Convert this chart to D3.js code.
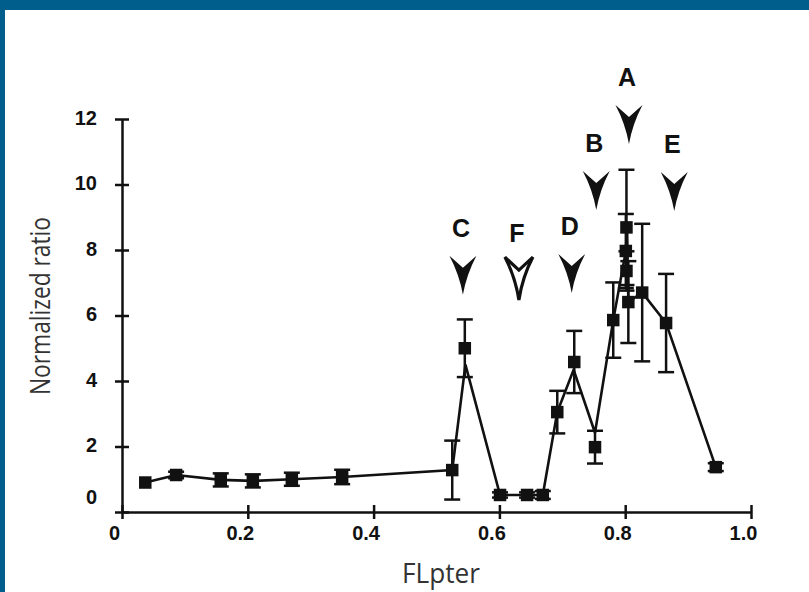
<!DOCTYPE html>
<html>
<head>
<meta charset="utf-8">
<script src="https://cdn.jsdelivr.net/npm/d3@7"></script>
<style>
  html, body { margin: 0; padding: 0; background: #fff; }
  svg { display: block; }
</style>
</head>
<body>
<script>
// ---- data ----
const xTicks = [0, 0.2, 0.4, 0.6, 0.8, 1.0];
const xTickLabels = ["0", "0.2", "0.4", "0.6", "0.8", "1.0"];
const yTicks = [0, 2, 4, 6, 8, 10, 12];

// measured points (FLpter, normalized ratio, error)
const markerX   = [0.037, 0.086, 0.157, 0.208, 0.270, 0.350, 0.525, 0.545, 0.601, 0.644, 0.669, 0.692, 0.719, 0.752, 0.781, 0.802, 0.801, 0.802, 0.805, 0.827, 0.865, 0.944];
const markerY   = [0.90, 1.13, 0.98, 0.95, 1.00, 1.07, 1.28, 5.00, 0.52, 0.52, 0.52, 3.05, 4.58, 1.98, 5.86, 8.69, 7.97, 7.36, 6.41, 6.70, 5.77, 1.37];
const markerErr = [0.00, 0.10, 0.20, 0.20, 0.20, 0.22, 0.90, 0.88, 0.08, 0.08, 0.12, 0.65, 0.95, 0.50, 1.15, 1.76, 1.13, 0.60, 1.25, 2.10, 1.50, 0.12];

// connecting line vertices as drawn
const lineX = [0.037, 0.086, 0.157, 0.208, 0.270, 0.350, 0.525, 0.546, 0.601, 0.644, 0.669, 0.692, 0.718, 0.752, 0.781, 0.801, 0.803, 0.805, 0.827, 0.865, 0.944];
const lineY = [0.90, 1.13, 0.98, 0.95, 1.00, 1.07, 1.28, 4.50, 0.52, 0.52, 0.52, 3.05, 4.34, 2.42, 5.86, 7.97, 8.69, 6.41, 6.70, 5.77, 1.37];

// arrow annotations
const arrowLabels = ["C", "F", "D", "B", "A", "E"];
const arrowX      = [0.542, 0.631, 0.715, 0.754, 0.806, 0.878];
const arrowTipY   = [6.63, 6.47, 6.69, 9.22, 11.24, 9.19];
const arrowHollow = [false, true, false, false, false, false];

// ---- drawing ----
const W = 809, H = 592;
const ink = "#111";
const svg = d3.select("body").append("svg").attr("width", W).attr("height", H);

svg.append("rect").attr("x", 0).attr("y", 0).attr("width", W).attr("height", H).attr("fill", "#fff");
// blue frame
svg.append("rect").attr("x", 0).attr("y", 0).attr("width", W).attr("height", 10).attr("fill", "#005E8C");
svg.append("rect").attr("x", 0).attr("y", 0).attr("width", 5).attr("height", H).attr("fill", "#005E8C");

const x = d3.scaleLinear().domain([0, 1]).range([122, 751]);
const y = d3.scaleLinear().domain([0, 12]).range([512, 119]);

// axes
const xAxis = svg.append("g").attr("transform", `translate(0,${y(0)})`)
  .call(d3.axisBottom(x).tickValues(xTicks).tickFormat((d, i) => xTickLabels[i]).tickSizeOuter(0));
xAxis.select(".domain").attr("stroke", ink).attr("stroke-width", 2.5);
xAxis.selectAll(".tick line").attr("y1", -7).attr("y2", 7).attr("stroke", ink).attr("stroke-width", 2.5);
xAxis.selectAll(".tick text")
  .attr("y", 28).attr("dy", 0).attr("dx", -8)
  .attr("fill", ink)
  .style("font-family", "'Liberation Sans', Arial, sans-serif")
  .style("font-weight", "bold").style("font-size", "20px");

const yAxis = svg.append("g").attr("transform", `translate(${x(0)},0)`)
  .call(d3.axisLeft(y).tickValues(yTicks).tickFormat(d3.format("d")).tickSizeOuter(0));
yAxis.select(".domain").attr("stroke", ink).attr("stroke-width", 2.5);
yAxis.selectAll(".tick line").attr("x1", 7).attr("x2", -7).attr("stroke", ink).attr("stroke-width", 2.5);
yAxis.selectAll(".tick text")
  .attr("x", -25).attr("dy", d => d === 0 ? "-0.42em" : "0.25em")
  .attr("fill", ink)
  .style("font-family", "'Liberation Sans', Arial, sans-serif")
  .style("font-weight", "bold").style("font-size", "20px");
svg.selectAll(".domain").attr("fill", "none");

// axis titles
svg.append("text")
  .attr("x", 441).attr("y", 583).attr("text-anchor", "middle")
  .attr("textLength", 78).attr("lengthAdjust", "spacingAndGlyphs")
  .attr("fill", "#333")
  .style("font-family", "'Open Sans', 'Noto Sans', sans-serif").style("font-size", "28px")
  .text("FLpter");
svg.append("text")
  .attr("transform", "translate(50,306) rotate(-90)").attr("text-anchor", "middle")
  .attr("textLength", 178).attr("lengthAdjust", "spacingAndGlyphs")
  .attr("fill", "#333")
  .style("font-family", "'Open Sans', 'Noto Sans', sans-serif").style("font-size", "28px")
  .text("Normalized ratio");

// connecting line
const lineData = lineX.map((v, i) => [v, lineY[i]]);
svg.append("path").datum(lineData)
  .attr("d", d3.line().x(d => x(d[0])).y(d => y(d[1])))
  .attr("fill", "none").attr("stroke", ink).attr("stroke-width", 2.6).attr("stroke-linejoin", "miter");

// error bars + markers
const pts = markerX.map((v, i) => ({ x: v, y: markerY[i], e: markerErr[i] }));
const eb = svg.append("g").attr("stroke", ink).attr("stroke-width", 2.5);
pts.filter(d => d.e > 0).forEach(d => {
  const cx = x(d.x), y1 = y(d.y + d.e), y2 = y(d.y - d.e);
  eb.append("line").attr("x1", cx).attr("x2", cx).attr("y1", y1).attr("y2", y2);
  eb.append("line").attr("x1", cx - 8).attr("x2", cx + 8).attr("y1", y1).attr("y2", y1);
  eb.append("line").attr("x1", cx - 8).attr("x2", cx + 8).attr("y1", y2).attr("y2", y2);
});
const ms = 12.5;
svg.append("g").selectAll("rect").data(pts).join("rect")
  .attr("x", d => x(d.x) - ms / 2).attr("y", d => y(d.y) - ms / 2)
  .attr("width", ms).attr("height", ms).attr("fill", ink);

// arrows
const arrowPath = "M0,0 Q-3.5,-20 -13.5,-39 L0,-27 L13.5,-39 Q3.5,-20 0,0 Z";
arrowLabels.forEach((lab, i) => {
  const ax = x(arrowX[i]), ay = y(arrowTipY[i]);
  const g = svg.append("g").attr("transform", `translate(${ax},${ay})`);
  if (arrowHollow[i]) {
    g.append("path").attr("d", "M0,0 Q-3.5,-23 -14,-43 L0,-30 L14,-43 Q3.5,-23 0,0 Z")
      .attr("fill", "#fff").attr("stroke", ink).attr("stroke-width", 3.2).attr("stroke-linejoin", "miter");
  } else {
    g.append("path").attr("d", arrowPath).attr("fill", ink);
  }
  g.append("text").attr("x", -2).attr("y", -58).attr("text-anchor", "middle")
    .attr("fill", ink)
    .style("font-family", "'Liberation Sans', Arial, sans-serif")
    .style("font-weight", "bold").style("font-size", "25px")
    .text(lab);
});
</script>
</body>
</html>
